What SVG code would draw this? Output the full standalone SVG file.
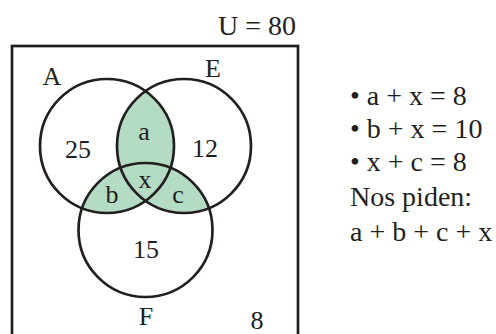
<svg xmlns="http://www.w3.org/2000/svg" width="496" height="334" viewBox="0 0 496 334">
  <style>
    .t { font-family: "Liberation Serif", "DejaVu Serif", serif; fill: #231f20; }
    .lbl { font-size: 26px; text-anchor: middle; }
    .side { font-size: 28px; }
    .ring { fill: none; stroke: #231f20; stroke-width: 2.7; }
    .shade { fill: #b4dcc4; }
  </style>
  <defs>
    <clipPath id="clipE"><circle cx="184" cy="146" r="67"/></clipPath>
    <clipPath id="clipF"><circle cx="145.5" cy="230" r="67"/></clipPath>
  </defs>
  <rect width="496" height="334" fill="#ffffff"/>
  <g id="universe">
    <rect x="12" y="46" width="286" height="300" fill="none" stroke="#231f20" stroke-width="2.7"/>
    <text class="t" x="296" y="35" font-size="28" text-anchor="end">U = 80</text>
    <text class="t lbl" x="257" y="329">8</text>
  </g>
  <g id="shading">
    <circle class="shade" cx="107" cy="146" r="67" clip-path="url(#clipE)"/>
    <circle class="shade" cx="107" cy="146" r="67" clip-path="url(#clipF)"/>
    <circle class="shade" cx="184" cy="146" r="67" clip-path="url(#clipF)"/>
  </g>
  <g id="setA">
    <circle class="ring" cx="107" cy="146" r="67"/>
    <text class="t lbl" x="52" y="85">A</text>
    <text class="t lbl" x="78" y="158">25</text>
  </g>
  <g id="setE">
    <circle class="ring" cx="184" cy="146" r="67"/>
    <text class="t lbl" x="213" y="77">E</text>
    <text class="t lbl" x="205" y="157">12</text>
  </g>
  <g id="setF">
    <circle class="ring" cx="145.5" cy="230" r="67"/>
    <text class="t lbl" x="146" y="325">F</text>
    <text class="t lbl" x="146" y="258">15</text>
  </g>
  <g id="regions">
    <text class="t lbl" x="144" y="140">a</text>
    <text class="t lbl" x="145" y="188">x</text>
    <text class="t lbl" x="112" y="203">b</text>
    <text class="t lbl" x="178" y="203">c</text>
  </g>
  <g id="notes">
    <text class="t side" x="350" y="105">• a + x = 8</text>
    <text class="t side" x="350" y="138">• b + x = 10</text>
    <text class="t side" x="350" y="171">• x + c = 8</text>
    <text class="t side" x="350" y="206">Nos piden:</text>
    <text class="t side" x="350" y="241">a + b + c + x</text>
  </g>
</svg>
